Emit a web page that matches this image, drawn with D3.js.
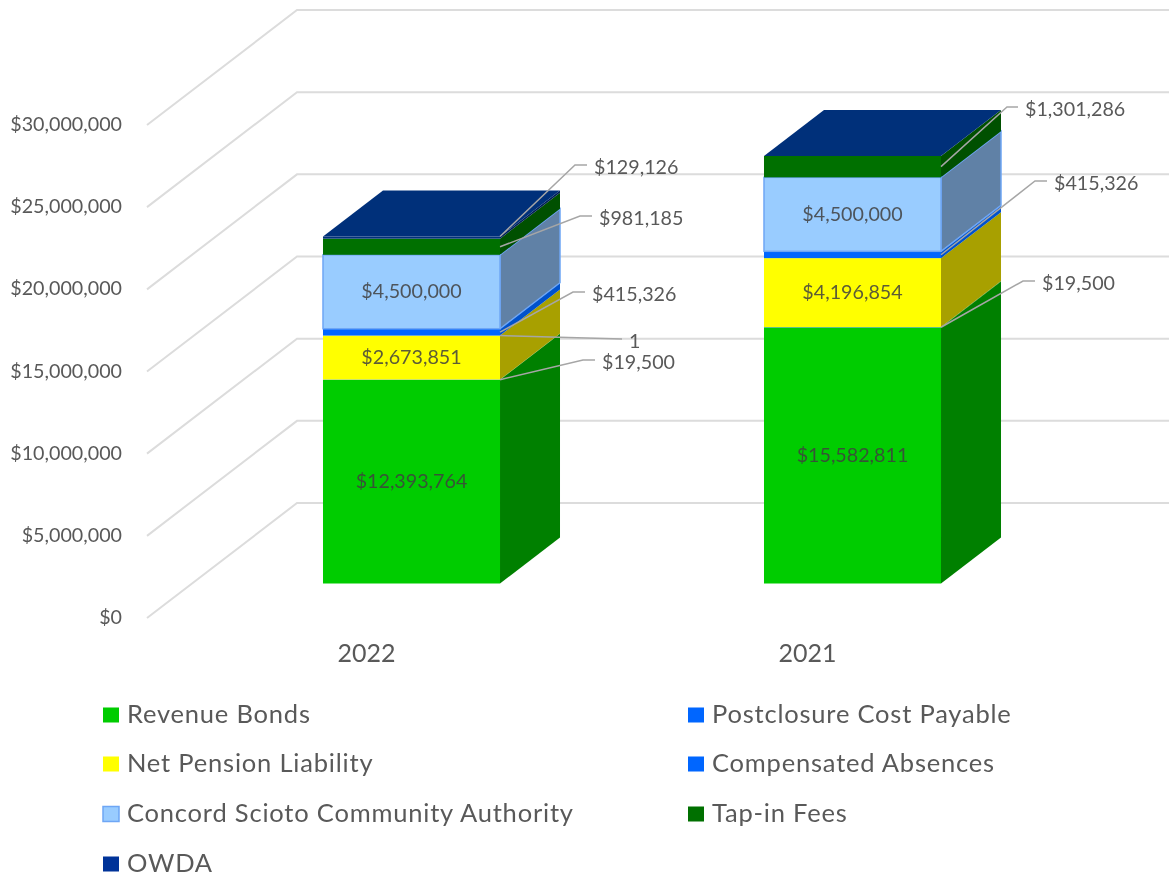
<!DOCTYPE html>
<html><head><meta charset="utf-8">
<script src="https://cdn.jsdelivr.net/npm/d3@7"></script>
<style>html,body{margin:0;padding:0;background:#fff}svg{display:block;filter:blur(0.4px)}text{font-family:Lato,"Open Sans",sans-serif;fill:#595959}</style>
</head><body><div id="chart"></div>
<script>
const categories = ["2022", "2021"];
const seriesNames = ["Revenue Bonds","Postclosure Cost Payable","Net Pension Liability","Compensated Absences","Concord Scioto Community Authority","Tap-in Fees","OWDA"];
const revenueBonds = [12393764, 15582811];
const postclosure = [19500, 19500];
const netPension = [2673851, 4196854];
const compensated = [415326, 415326];
const concord = [4500000, 4500000];
const tapIn = [981185, 1301286];
const owda = [129126, 0];
const tickValues = [0, 5000000, 10000000, 15000000, 20000000, 25000000, 30000000];
const frontColors = ["#00cc00","#0066ff","#ffff00","#0066ff","#99ccff","#007000","#00307a"];
const sideColors = ["#008000","#008000","#a8a000","#0052cc","#6081a6","#005000","#00205a"];
const legendColors = ["#00cc00","#0066ff","#ffff00","#0066ff","#99ccff","#007000","#003399"];
const centerLabels = [[0,0],[2,0],[4,0],[0,1],[2,1],[4,1]];
const leaderLabels = [
  {cat:0, ser:1, text:"$19,500", at:0.5, lx:583, ly:360, ex:595},
  {cat:0, ser:2, text:"1", at:1, lx:622, ly:339, ex:622},
  {cat:0, ser:3, text:"$415,326", at:0.5, lx:573, ly:292, ex:585},
  {cat:0, ser:5, text:"$981,185", at:0.5, lx:580, ly:216, ex:592},
  {cat:0, ser:6, text:"$129,126", at:1, lx:575, ly:165, ex:587},
  {cat:1, ser:1, text:"$19,500", at:0.5, lx:1023, ly:281, ex:1035},
  {cat:1, ser:3, text:"$415,326", at:0.5, lx:1035, ly:181, ex:1047},
  {cat:1, ser:5, text:"$1,301,286", at:0.5, lx:1007, ly:107, ex:1018}
];

const W = 1169, H = 877;
const svg = d3.select("#chart").append("svg").attr("width", W).attr("height", H);
const fmt = d3.format("$,");
const rows = categories.map((c,i)=>{
  const r = {cat:c};
  [revenueBonds,postclosure,netPension,compensated,concord,tapIn,owda].forEach((a,k)=>r[seriesNames[k]]=a[i]);
  return r;
});
const stacked = d3.stack().keys(seriesNames)(rows);

// value → height above the floor
const h = d3.scaleLinear().domain([0,30000000]).range([0,493]);
const x = d3.scaleBand().domain(categories).range([191,1073]).paddingInner(0.5986).paddingOuter(0.2993);

// oblique projection of the 3-D frame
const floorFront = {x:147, y:618}, floorBack = {x:297, y:503};
const barBaseY = 583.5, depthX = 60, depthY = -46;

// grid
const grid = svg.append("g").attr("fill","none").attr("stroke","#dcdcdc").attr("stroke-width",2);
tickValues.forEach(v=>{
  grid.append("path").attr("d", d3.line()([
    [floorFront.x, floorFront.y-h(v)],
    [floorBack.x, floorBack.y-h(v)],
    [W, floorBack.y-h(v)]
  ]));
});
svg.append("g").selectAll("text").data(tickValues).join("text")
  .attr("x",122).attr("y",v=>floorFront.y-1.5-h(v)).attr("text-anchor","end")
  .attr("dominant-baseline","central").attr("font-size",19.7).text(fmt);

// bars
const bars = svg.append("g");
categories.forEach((c,i)=>{
  const x0 = x(c), x1 = x0 + x.bandwidth();
  stacked.forEach((s,k)=>{
    const y0 = barBaseY-h(s[i][0]), y1 = barBaseY-h(s[i][1]);
    bars.append("path").attr("fill",sideColors[k]).attr("d", d3.line()([
      [x1,y0],[x1+depthX,y0+depthY],[x1+depthX,y1+depthY],[x1,y1]
    ])+"Z").attr("stroke", k===4?"#6ea6f5":"none").attr("stroke-width",k===4?1.5:0);
  });
  stacked.forEach((s,k)=>{
    const y0 = barBaseY-h(s[i][0]), y1 = barBaseY-h(s[i][1]);
    bars.append("rect").attr("x",x0).attr("width",x.bandwidth()).attr("y",y1).attr("height",y0-y1)
      .attr("fill",frontColors[k]).attr("stroke",k===4?"#6ea6f5":"none").attr("stroke-width",k===4?1.5:0);
  });
  const top = stacked[stacked.length-1][i][1], yt = barBaseY-h(top);
  bars.append("path").attr("fill",frontColors[6]).attr("d", d3.line()([
    [x0,yt],[x0+depthX,yt+depthY],[x1+depthX,yt+depthY],[x1,yt]
  ])+"Z");
});

// labels inside the bars
svg.append("g").selectAll("text").data(centerLabels).join("text")
  .attr("x",d=>x(categories[d[1]])+x.bandwidth()/2)
  .attr("y",d=>barBaseY-1-h((stacked[d[0]][d[1]][0]+stacked[d[0]][d[1]][1])/2))
  .attr("text-anchor","middle").attr("dominant-baseline","central")
  .attr("font-size",19.7).style("fill","#404040").style("opacity",.85)
  .text(d=>fmt(stacked[d[0]][d[1]][1]-stacked[d[0]][d[1]][0]));

// leader labels
const lead = svg.append("g");
leaderLabels.forEach(d=>{
  const s = stacked[d.ser][d.cat];
  const v = s[0]+(s[1]-s[0])*d.at;
  const sx = x(categories[d.cat])+x.bandwidth(), sy = barBaseY-h(v);
  lead.append("path").attr("fill","none").attr("stroke","#a6a6a6").attr("stroke-width",1.5)
    .attr("d", d3.line()([[sx,sy],[d.lx,d.ly],[d.ex,d.ly]]));
  lead.append("text").attr("x",d.ex+7).attr("y",d.ly+1).attr("dominant-baseline","central")
    .attr("font-size",19.7).text(d.text);
});

// category labels
svg.append("g").selectAll("text").data(categories).join("text")
  .attr("x",c=>x(c)+x.bandwidth()/2-45).attr("y",651.5)
  .attr("text-anchor","middle").attr("dominant-baseline","central")
  .attr("font-size",25).text(c=>c);

// legend
const legendPos = [[103,715],[688,715],[103,764],[688,764],[103,814],[688,814],[103,864]];
const leg = svg.append("g");
seriesNames.forEach((n,k)=>{
  const [lx,ly] = legendPos[k];
  leg.append("rect").attr("x",lx).attr("y",ly-7.5).attr("width",16).attr("height",15)
    .attr("fill",legendColors[k]).attr("stroke",k===4?"#6ea6f5":"none").attr("stroke-width",k===4?1.5:0);
  leg.append("text").attr("x",lx+24).attr("y",ly-2).attr("dominant-baseline","central")
    .attr("font-size",25.5).attr("letter-spacing",0.8).text(n);
});
</script></body></html>
